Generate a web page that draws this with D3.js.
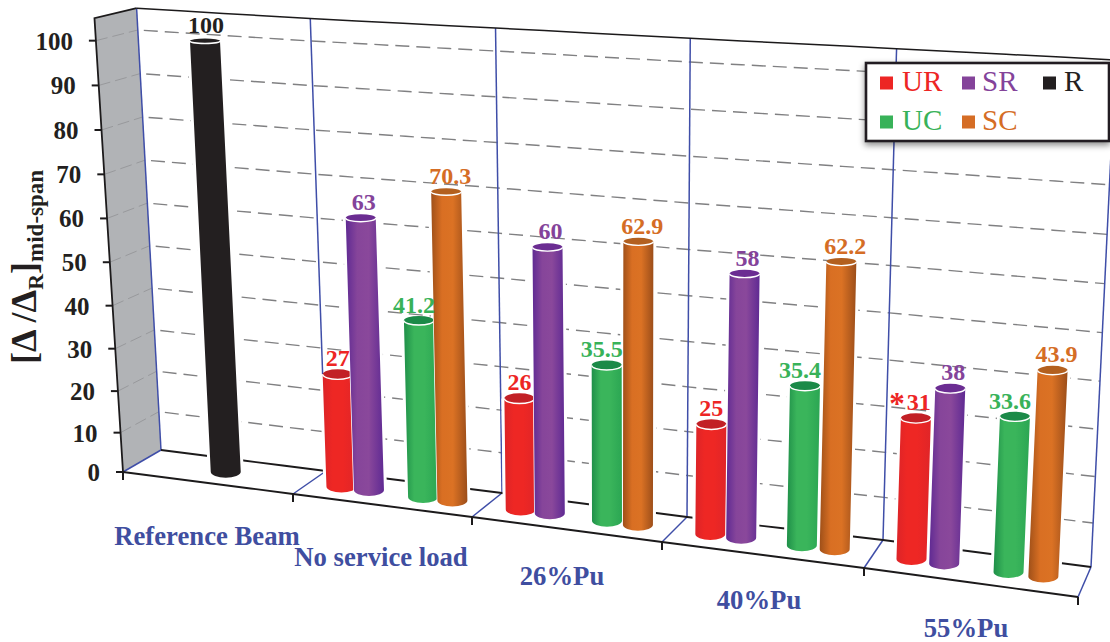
<!DOCTYPE html>
<html>
  <head>
    <meta charset="UTF-8" />
    <title>Mid-span deflection ratio</title>
    <script src="https://cdnjs.cloudflare.com/ajax/libs/d3/7.8.5/d3.min.js"></script>
    <style>
      body { margin: 0; padding: 0; background: #fff; }
      svg { display: block; font-family: "Liberation Serif", serif; }
      .tick-label { font-weight: bold; font-size: 25px; fill: #231f20; text-anchor: end; }
      .cat-label { font-weight: bold; font-size: 26.7px; fill: #3f4ea0; text-anchor: middle; }
      .val-label { font-weight: bold; font-size: 24px; text-anchor: middle; }
      .legend-label { font-size: 29px; }
      .grid { fill: none; stroke: #808082; stroke-width: 1.4; stroke-dasharray: 14 7; }
      .blue { fill: none; stroke: #3f4ea8; stroke-width: 1.5; }
      .edge { fill: none; stroke: #1c1a1b; stroke-width: 1.8; }
    </style>
  </head>
  <body>
    <svg id="chart" width="1110" height="642"></svg>

    <script>
      // Chart values
      const categories = ["Reference Beam", "No service load", "26%Pu", "40%Pu", "55%Pu"];
      const yTicks = [0, 10, 20, 30, 40, 50, 60, 70, 80, 90, 100];
      const seriesNames = ["UR", "SR", "UC", "SC", "R"];
      const UR = [null, 27, 26, 25, 31];
      const SR = [null, 63, 60, 58, 38];
      const UC = [null, 41.2, 35.5, 35.4, 33.6];
      const SC = [null, 70.3, 62.9, 62.2, 43.9];
      const R = [100, null, null, null, null];
      const seriesValues = { UR, SR, UC, SC, R };

      const colors = { UR: "#ed2524", SR: "#84439a", UC: "#38b259", SC: "#d56d25", R: "#231f20" };
      const capColors = { UR: "#c22026", SR: "#6b2d92", UC: "#1b8a48", SC: "#b3601f", R: "#231f20" };
      // offset of each series inside its category slot
      const slotOffset = { UR: 0.18, SR: 0.335, UC: 0.64, SC: 0.805, R: 0.5 };
      // labels are nudged sideways so they clear the neighbouring bar
      const labelShift = { UR: 0, SR: 3, UC: -5, SC: 4, R: 1 };

      const svg = d3.select("#chart");
      const defs = svg.append("defs");

      // Floor corners of the slots, front edge and back edge
      const slots = d3.range(categories.length + 1);
      const frontX = d3.scaleLinear().domain(slots).range([123, 293, 472, 662, 864, 1078]);
      const frontY = d3.scaleLinear().domain(slots).range([472, 494, 517, 542, 568, 597]);
      const backX = d3.scaleLinear().domain(slots).range([161, 326, 502, 687, 883, 1091]);
      const backY = d3.scaleLinear().domain(slots).range([450, 471, 493, 517, 540, 567]);
      // Height of the 100 level on the back wall
      const backHeight = d3.scaleLinear().domain(slots).range([420, 430, 442, 455, 467, 482]);
      // Value axis, very slightly stretched toward the top by the camera
      const level = d3.scalePow().exponent(1.04).domain([0, 100]).range([0, 1]);

      // Project slot position, depth (0 front, 1 back) and value to the page
      function project(u, depth, value) {
        const x0 = frontX(u) + (backX(u) - frontX(u)) * depth;
        const y0 = frontY(u) + (backY(u) - frontY(u)) * depth;
        const h = backHeight(u) * (1 + 0.027 * (1 - depth));
        const f = level(value);
        const lean = 0.05 + 0.004 * (1 - depth);
        return [x0 + (x0 - 625) * lean * f, y0 - h * f];
      }
      const line = d3.line();
      const wallTop = 105;
      const fine = d3.range(0, 5.01, 0.25);

      // Left side wall
      svg.append("path")
        .attr("d", line([project(0, 0, 0), project(0, 0, wallTop), project(0, 1, wallTop), project(0, 1, 0)]) + "Z")
        .attr("fill", "#b1b3b6");

      // Dashed grid on side wall and back wall
      yTicks.slice(1).forEach(v => {
        svg.append("path").attr("class", "grid")
          .attr("d", line([project(0, 0, v), project(0, 1, v)]))
          .style("stroke", "#98999c").style("stroke-width", 1).style("stroke-dasharray", "12 5");
        svg.append("path").attr("class", "grid")
          .attr("d", line(fine.map(u => project(u, 1, v))))
          .attr("stroke-dashoffset", -6);
      });

      // Blue slot dividers on the back wall and floor
      slots.forEach(u => {
        svg.append("path").attr("class", "blue")
          .attr("d", line([project(u, 1, 0), project(u, 1, wallTop)]));
        svg.append("path").attr("class", "blue")
          .attr("d", line([project(u, 0, 0), project(u, 1, 0)]));
      });

      // Frame edges
      svg.append("path").attr("class", "edge")
        .attr("d", line([project(0, 0, 0), project(0, 0, wallTop), project(0, 1, wallTop)]));
      svg.append("path").attr("class", "edge").style("stroke-width", 1.5)
        .attr("d", line(fine.map(u => project(u, 1, wallTop))));
      svg.append("path").attr("class", "edge")
        .attr("d", line(fine.map(u => project(u, 1, 0))));
      svg.append("path").attr("class", "edge")
        .attr("d", line(fine.map(u => project(u, 0, 0))));

      // Value axis ticks and labels
      yTicks.forEach(v => {
        const [x, y] = project(0, 0, v);
        svg.append("line").attr("x1", x - 7).attr("x2", x).attr("y1", y).attr("y2", y)
          .attr("stroke", "#1c1a1b").attr("stroke-width", 2);
        svg.append("text").attr("class", "tick-label")
          .attr("x", x - 23).attr("y", y + 9).text(v);
      });

      // Category ticks and labels
      slots.forEach(u => {
        const [x, y] = project(u, 0, 0);
        svg.append("line").attr("x1", x).attr("x2", x).attr("y1", y).attr("y2", y + 8)
          .attr("stroke", "#1c1a1b").attr("stroke-width", 2);
      });
      categories.forEach((c, i) => {
        const [x, y] = project(i + 0.5, 0, 0);
        svg.append("text").attr("class", "cat-label")
          .attr("x", x + [-1, -1.5, -5, -4, -5][i])
          .attr("y", y + [62, 60, 55.5, 54, 54.5][i])
          .text(c);
      });

      // Axis title
      const title = svg.append("text")
        .attr("transform", "translate(36,364) rotate(-90)")
        .attr("font-weight", "bold").attr("fill", "#231f20");
      title.append("tspan").attr("font-size", 36).text("[Δ /Δ");
      title.append("tspan").attr("font-size", 22).attr("dy", 7).text("R");
      title.append("tspan").attr("font-size", 36).attr("dy", -7).text("]");
      title.append("tspan").attr("font-size", 23).attr("dy", 7).text("mid-span");

      // Cylinder shading for each series
      const shades = {
        UR: ["#dc2428", "#ee2724", "#ee2724", "#e02528"],
        SR: ["#5f2a93", "#86459a", "#8a489b", "#5f2a93"],
        UC: ["#1f8f49", "#3ab55b", "#3ab55b", "#2ba653"],
        SC: ["#9f5019", "#d96f23", "#db7224", "#9c4e1a"],
        R: ["#231f20", "#231f20", "#231f20", "#231f20"]
      };
      seriesNames.forEach(s => {
        const g = defs.append("linearGradient").attr("id", "shade" + s);
        [0, 30, 60, 100].forEach((o, k) => {
          g.append("stop").attr("offset", o + "%").attr("stop-color", shades[s][k]);
        });
      });

      // Cylinders, drawn left to right so neighbours overlap correctly
      const bars = [];
      categories.forEach((c, i) => {
        seriesNames.forEach(s => {
          if (seriesValues[s][i] !== null) {
            bars.push({ series: s, slot: i, value: seriesValues[s][i], u: i + slotOffset[s] });
          }
        });
      });
      const barRadius = 15;
      const barDepth = 0.5;
      const ellipseRy = d3.scaleLinear().domain([0, 100]).range([6, 2.5]);

      function bodyPath(d) {
        const [bx, by] = project(d.u, barDepth, 0);
        const [tx, ty] = project(d.u, barDepth, d.value);
        return `M${tx - barRadius},${ty} L${bx - barRadius},${by}
          A${barRadius},${ellipseRy(0)} 0 0 0 ${bx + barRadius},${by}
          L${tx + barRadius},${ty} A${barRadius},${ellipseRy(d.value)} 0 0 1 ${tx - barRadius},${ty}Z`;
      }

      // White halo keeps the grid clear of the bars
      bars.forEach(d => {
        svg.append("path").attr("d", bodyPath(d))
          .attr("fill", "#fff").attr("stroke", "#fff").attr("stroke-width", 6);
      });

      bars.forEach(d => {
        const [tx, ty] = project(d.u, barDepth, d.value);
        const ryT = ellipseRy(d.value);
        const g = svg.append("g");
        g.append("path").attr("d", bodyPath(d))
          .attr("fill", `url(#shade${d.series})`)
          .attr("stroke", "#fff").attr("stroke-width", 1.5).attr("paint-order", "stroke");
        g.append("ellipse")
          .attr("cx", tx).attr("cy", ty).attr("rx", barRadius).attr("ry", ryT)
          .attr("fill", capColors[d.series]);
        g.append("path")
          .attr("d", `M${tx - barRadius},${ty} A${barRadius},${ryT} 0 0 0 ${tx + barRadius},${ty}`)
          .attr("fill", "none").attr("stroke", "#fff").attr("stroke-width", 1.4);
      });

      // Value labels sit above everything else
      bars.forEach(d => {
        const [tx, ty] = project(d.u, barDepth, d.value);
        const starred = d.slot === 4 && d.series === "UR";
        const label = svg.append("text").attr("class", "val-label")
          .attr("x", tx + (starred ? -4 : labelShift[d.series]))
          .attr("y", ty - 8)
          .attr("fill", colors[d.series]);
        if (starred) {
          label.append("tspan").attr("font-size", 31).attr("dy", 4).attr("dx", -2).text("*");
          label.append("tspan").attr("dy", -4).attr("dx", 2).text(d.value);
        } else {
          label.text(d.value);
        }
      });

      // Legend
      defs.append("filter").attr("id", "legendShadow")
        .attr("x", "-10%").attr("y", "-10%").attr("width", "120%").attr("height", "130%")
        .append("feDropShadow")
        .attr("dx", 0).attr("dy", 3).attr("stdDeviation", 3)
        .attr("flood-color", "#000").attr("flood-opacity", 0.45);
      const legend = svg.append("g");
      legend.append("rect")
        .attr("x", 866).attr("y", 63).attr("width", 243).attr("height", 78)
        .attr("fill", "#fff").attr("stroke", "#231f20").attr("stroke-width", 2.6)
        .attr("filter", "url(#legendShadow)");
      const legendPos = { UR: [880, 83], SR: [962, 83], R: [1043, 83], UC: [880, 122], SC: [962, 122] };
      const legendGap = { UR: 22, SR: 20, R: 21, UC: 22, SC: 20 };
      seriesNames.forEach(s => {
        const [x, y] = legendPos[s];
        legend.append("rect").attr("x", x).attr("y", y - 6.5)
          .attr("width", 13).attr("height", 13).attr("fill", colors[s]);
        legend.append("text").attr("class", "legend-label")
          .attr("x", x + legendGap[s]).attr("y", y + 8)
          .attr("fill", colors[s]).text(s);
      });
    </script>
  </body>
</html>
